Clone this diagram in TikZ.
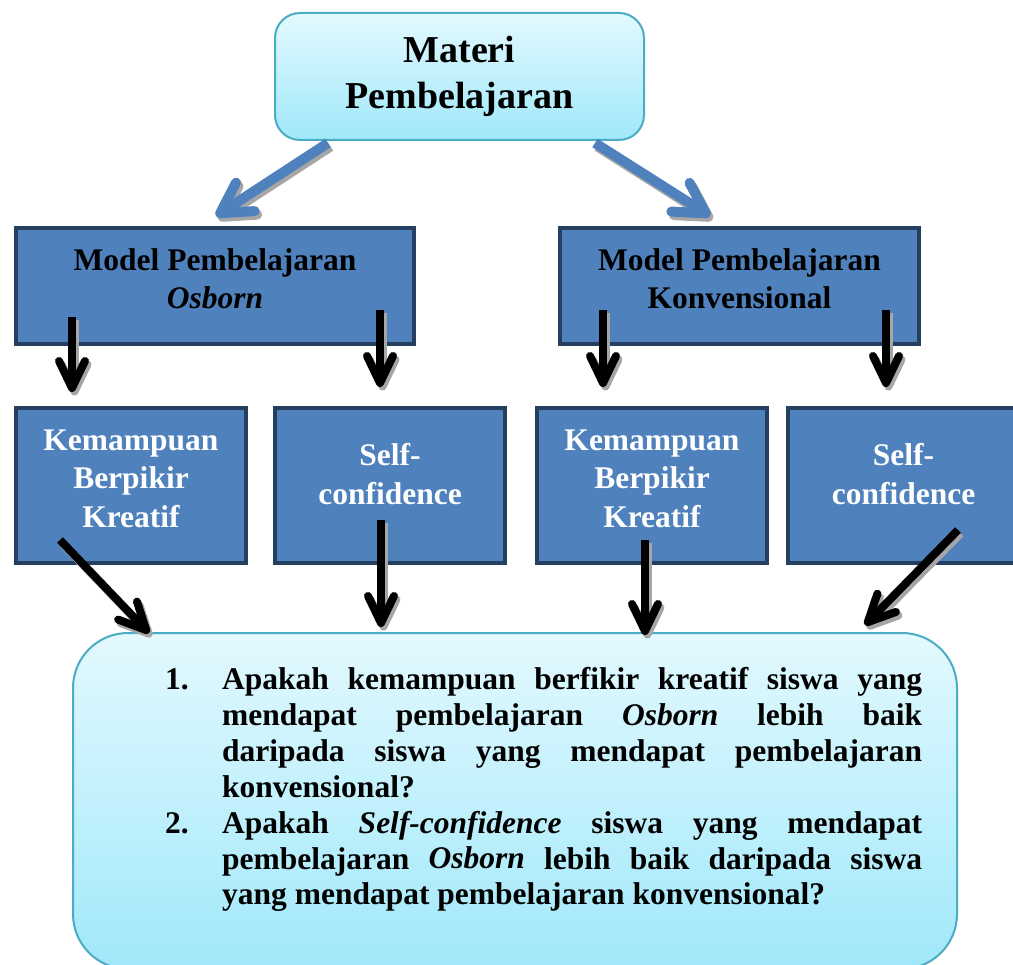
\documentclass[tikz,border=0pt]{standalone}
\usepackage{fontspec}
\setmainfont{Liberation Serif}
\usetikzlibrary{arrows.meta,calc}
\definecolor{boxblue}{HTML}{4F81BD}
\definecolor{boxedge}{HTML}{243F60}
\definecolor{cyanedge}{HTML}{4BACC6}
\definecolor{cyantop}{HTML}{E3F9FE}
\definecolor{cyanbot}{HTML}{A0E8FA}
\definecolor{shadowgray}{HTML}{A6A6A6}
\begin{document}
\begin{tikzpicture}[x=1pt,y=-1pt,
  bluebox/.style={draw=boxedge, line width=4pt, fill=boxblue, inner sep=0pt},
  cyanbox/.style={draw=cyanedge, line width=2pt, top color=cyantop, bottom color=cyanbot, inner sep=0pt},
  headtext/.style={font=\fontsize{38}{46}\selectfont\bfseries, align=center, text=black},
  modeltext/.style={font=\fontsize{31.5}{38}\selectfont\bfseries, align=center, text=black, inner sep=0pt},
  smalltext/.style={font=\fontsize{31.5}{38.5}\selectfont\bfseries, align=center, text=white, inner sep=0pt},
  bluearrow/.style={draw=boxblue, line width=10pt, -{Straight Barb[length=30pt,width=34pt,round]}},
  blackarrow/.style={draw=black, line width=8pt, -{Straight Barb[length=27pt,width=26pt,round]}},
  shadowblue/.style={draw=shadowgray, line width=10pt, -{Straight Barb[length=30pt,width=34pt,round]}, transform canvas={shift={(2.5pt,-3.5pt)}}},
  shadowblack/.style={draw=shadowgray, line width=8pt, -{Straight Barb[length=27pt,width=26pt,round]}, transform canvas={shift={(2.5pt,-3.5pt)}}}
]
\useasboundingbox (0,0) rectangle (1013,965);
\clip (0,0) rectangle (1013,965);

% top box
\node[cyanbox, rounded corners=25pt, minimum width=369pt, minimum height=127pt, headtext] (top) at (459.5,76.5) {Materi\\Pembelajaran};

% model boxes
\node[bluebox, minimum width=398pt, minimum height=116pt] (m1) at (215,286) {};
\node[modeltext] (m1t) at (215,278.5) {Model Pembelajaran\\\textit{Osborn}};
\node[bluebox, minimum width=359pt, minimum height=116pt] (m2) at (739.5,286) {};
\node[modeltext] (m2t) at (739.5,278.5) {Model Pembelajaran\\Konvensional};

% small boxes
\node[bluebox, minimum width=230pt, minimum height=155pt] (s1) at (131,485.5) {};
\node[smalltext] (s1t) at (131,478.5) {Kemampuan\\Berpikir\\Kreatif};
\node[bluebox, minimum width=230pt, minimum height=155pt] (s2) at (390,485.5) {};
\node[smalltext] (s2t) at (390,474) {Self-\\confidence};
\node[bluebox, minimum width=230pt, minimum height=155pt] (s3) at (652,485.5) {};
\node[smalltext] (s3t) at (652,478.5) {Kemampuan\\Berpikir\\Kreatif};
\node[bluebox, minimum width=231pt, minimum height=155pt] (s4) at (903.5,485.5) {};
\node[smalltext] (s4t) at (903.5,474) {Self-\\confidence};

% bottom box
\node[cyanbox, rounded corners=55pt, minimum width=884pt, minimum height=336pt] (bot) at (515,801) {};
\node[anchor=base west, inner sep=0pt, text=black] (bott) at (165,689) {\parbox[t]{757pt}{%
\fontsize{31.5}{36}\selectfont\bfseries
\hyphenpenalty=10000 \exhyphenpenalty=10000 \parindent=0pt \parskip=0pt
\hangindent=57pt \hangafter=1 \noindent\makebox[57pt][l]{1.}Apakah kemampuan berfikir kreatif siswa yang\linebreak
mendapat pembelajaran \textit{Osborn} lebih baik\linebreak
daripada siswa yang mendapat pembelajaran\linebreak
konvensional?\par
\hangindent=57pt \hangafter=1 \noindent\makebox[57pt][l]{2.}Apakah \textit{Self-confidence} siswa yang mendapat\linebreak
pembelajaran \textit{Osborn} lebih baik daripada siswa\linebreak
yang mendapat pembelajaran konvensional?\par}};

% arrow end points
\coordinate (b1s) at (328,143);  \coordinate (b1e) at (216,216);
\coordinate (b2s) at (595,143);  \coordinate (b2e) at (710,216);
\coordinate (a1s) at (72,317);   \coordinate (a1e) at (72,392);
\coordinate (a2s) at (380,310);  \coordinate (a2e) at (380,387);
\coordinate (a3s) at (603,310);  \coordinate (a3e) at (603,387);
\coordinate (a4s) at (886,310);  \coordinate (a4e) at (886,387);
\coordinate (l1s) at (60,540);   \coordinate (l1e) at (149,633);
\coordinate (l2s) at (381,520);  \coordinate (l2e) at (381,627);
\coordinate (l3s) at (645,540);  \coordinate (l3e) at (645,635);
\coordinate (l4s) at (958,530);  \coordinate (l4e) at (865,625);

% shadows
\draw[shadowblue] (b1s) -- (b1e);
\draw[shadowblue] (b2s) -- (b2e);
\foreach \p in {a1,a2,a3,a4,l1,l2,l3,l4}{
  \draw[shadowblack] (\p s) -- (\p e);
}
% arrows
\draw[bluearrow] (b1s) -- (b1e);
\draw[bluearrow] (b2s) -- (b2e);
\foreach \p in {a1,a2,a3,a4,l1,l2,l3,l4}{
  \draw[blackarrow] (\p s) -- (\p e);
}
\end{tikzpicture}
\end{document}
